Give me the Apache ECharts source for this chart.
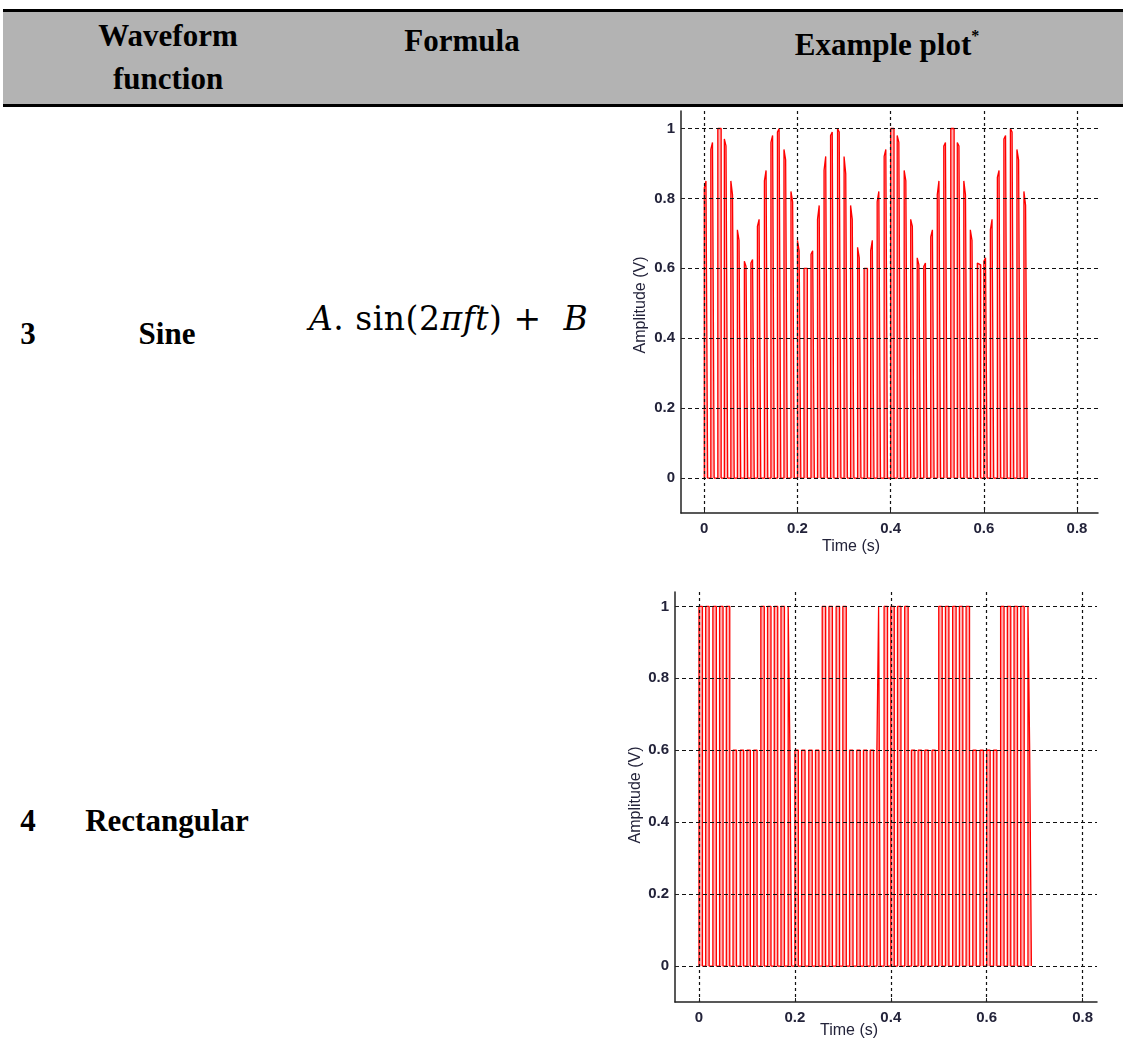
<!DOCTYPE html>
<html>
<head>
<meta charset="utf-8">
<script src="https://cdn.jsdelivr.net/npm/echarts@6/dist/echarts.min.js"></script>
<style>
  html, body { margin: 0; padding: 0; background: #fff; }
  #page { position: relative; width: 1123px; height: 1042px; overflow: hidden;
          font-family: "Liberation Serif", "Times New Roman", serif; }
  .rule { position: absolute; left: 3px; right: 0; background: #000; }
  .cell { position: absolute; font-weight: bold; font-size: 31px; color: #000;
          transform: translate(-50%, -50%); white-space: nowrap; text-align: center; line-height: 43px; }
  .formula { position: absolute; font-size: 33px; color: #000; white-space: nowrap; letter-spacing: 0.5px;
             font-family: "DejaVu Serif", serif; transform: translate(0, -50%); }
  #chart { position: absolute; left: 0; top: 0; width: 1123px; height: 1042px; }
</style>
</head>
<body>
<div id="page">
  <div style="position:absolute;left:3px;right:0;top:11px;height:94px;background:#b3b3b3"></div>
  <div class="rule" style="top:9px;height:3px"></div>
  <div class="rule" style="top:104px;height:3px"></div>

  <div class="cell" style="left:168px;top:57px">Waveform<br>function</div>
  <div class="cell" style="left:462px;top:40px">Formula</div>
  <div class="cell" style="left:887px;top:40px">Example plot<sup style="font-size:16px;vertical-align:14px">*</sup></div>

  <div class="cell" style="left:28px;top:333px">3</div>
  <div class="cell" style="left:167px;top:333px">Sine</div>
  <div class="formula" style="left:309px;top:318px"><i>A</i>. sin(2<i>πft</i>) +&nbsp; <i>B</i></div>

  <div class="cell" style="left:28px;top:820px">4</div>
  <div class="cell" style="left:167px;top:820px">Rectangular</div>

  <div id="chart"></div>
</div>

<script>
  // pulse start times (s), same pulse train in both plots
  const pulseStart = [0, 0.014, 0.029, 0.043, 0.057, 0.071, 0.086, 0.100, 0.114, 0.129,
    0.143, 0.157, 0.171, 0.186, 0.200, 0.214, 0.229, 0.243, 0.257, 0.271,
    0.286, 0.300, 0.314, 0.329, 0.343, 0.357, 0.371, 0.386, 0.400, 0.414,
    0.429, 0.443, 0.457, 0.471, 0.486, 0.500, 0.514, 0.529, 0.543, 0.557,
    0.571, 0.586, 0.600, 0.614, 0.629, 0.643, 0.657, 0.671, 0.686];

  // sine plot: pulse top, first half / second half of each pulse (V)
  const sineTopA = [0.83, 0.94, 1.00, 0.97, 0.85, 0.71, 0.62, 0.615, 0.72, 0.85,
    0.96, 0.99, 0.94, 0.82, 0.68, 0.60, 0.64, 0.74, 0.88, 0.98,
    1.00, 0.92, 0.78, 0.66, 0.60, 0.65, 0.79, 0.92, 1.00, 0.98,
    0.88, 0.74, 0.63, 0.605, 0.69, 0.81, 0.95, 1.00, 0.96, 0.85,
    0.71, 0.615, 0.62, 0.71, 0.86, 0.97, 1.00, 0.94, 0.82];
  const sineTopB = [0.85, 0.96, 1.00, 0.95, 0.81, 0.68, 0.605, 0.625, 0.74, 0.88,
    0.98, 1.00, 0.91, 0.79, 0.65, 0.60, 0.65, 0.78, 0.92, 0.99,
    0.99, 0.87, 0.74, 0.63, 0.60, 0.68, 0.82, 0.94, 1.00, 0.96,
    0.85, 0.72, 0.61, 0.615, 0.71, 0.85, 0.96, 1.00, 0.95, 0.81,
    0.68, 0.61, 0.63, 0.74, 0.88, 0.98, 0.99, 0.91, 0.78];

  // rectangular plot: pulse top, first half / second half (V)
  const rectTopA = [1, 1, 1, 1, 1, 0.6, 0.6, 0.6, 0.6, 1,
    1, 1, 1, 1, 0.6, 0.6, 0.6, 0.6, 1, 1,
    1, 1, 0.6, 0.6, 0.6, 0.6, 0.6, 1, 1, 1,
    1, 0.6, 0.6, 0.6, 0.6, 1, 1, 1, 1, 1,
    0.6, 0.6, 0.6, 0.6, 1, 1, 1, 1, 1];
  const rectTopB = [1, 1, 1, 1, 1, 0.6, 0.6, 0.6, 0.6, 1,
    1, 1, 1, 0.6, 0.6, 0.6, 0.6, 0.6, 1, 1,
    1, 1, 0.6, 0.6, 0.6, 0.6, 1, 1, 1, 1,
    1, 0.6, 0.6, 0.6, 0.6, 1, 1, 1, 1, 1,
    0.6, 0.6, 0.6, 0.6, 1, 1, 1, 1, 0.6];

  const timeTicks = [0, 0.2, 0.4, 0.6, 0.8];
  const ampTicks = [0, 0.2, 0.4, 0.6, 0.8, 1];

  const PULSE_W = 0.0072;

  function pulseTrain(starts, topA, topB) {
    let pts = [[starts[0], 0]];
    starts.forEach(function (s, i) {
      pts.push([s, topA[i]]);
      pts.push([s + PULSE_W / 2, topB[i]]);
      pts.push([s + PULSE_W, 0]);
    });
    return pts;
  }

  const tickFont = { fontSize: 15, fontWeight: 'bold', color: '#23233a', fontFamily: 'Liberation Sans' };
  const axisColor = '#222';

  function timeAxis(grid, max) {
    return {
      type: 'value', gridIndex: grid, min: -0.05, max: max, z: 3,
      axisLine: { onZero: false, lineStyle: { color: axisColor, width: 1.5 } },
      axisTick: { inside: true, length: 4, customValues: timeTicks, lineStyle: { color: axisColor } },
      axisLabel: Object.assign({ customValues: timeTicks, margin: 8 }, tickFont),
      splitLine: { show: true, lineStyle: { color: '#111', width: 1.2, type: [3, 3] } }
    };
  }

  function ampAxis(grid, max) {
    return {
      type: 'value', gridIndex: grid, min: -0.1, max: max, z: 3,
      axisLine: { show: true, onZero: false, lineStyle: { color: axisColor, width: 1.5 } },
      axisTick: { show: true, inside: true, length: 4, customValues: ampTicks, lineStyle: { color: axisColor } },
      axisLabel: Object.assign({ customValues: ampTicks, margin: 6 }, tickFont),
      splitLine: { show: true, lineStyle: { color: '#111', width: 1.2, type: [4, 3] } }
    };
  }

  function pulseSeries(idx, topA, topB) {
    return {
      type: 'line', xAxisIndex: idx, yAxisIndex: idx, step: 'end',
      data: pulseTrain(pulseStart, topA, topB),
      showSymbol: false, silent: true, z: 1,
      lineStyle: { color: '#ff0000', width: 1.3 },
      areaStyle: { color: 'rgba(255,40,40,0.5)' }
    };
  }

  function label(text, x, y, vertical) {
    return {
      type: 'text', x: x, y: y, rotation: vertical ? Math.PI / 2 : 0,
      style: { text: text, textAlign: 'center', textVerticalAlign: 'middle',
               font: '16px "Liberation Sans"', fill: '#23233a' }
    };
  }

  let chart = echarts.init(document.getElementById('chart'));
  chart.setOption({
    animation: false,
    grid: [
      { left: 681, top: 111, width: 417, height: 402 },
      { left: 675, top: 592, width: 422, height: 410 }
    ],
    xAxis: [timeAxis(0, 0.845), timeAxis(1, 0.83)],
    yAxis: [ampAxis(0, 1.05), ampAxis(1, 1.04)],
    series: [pulseSeries(0, sineTopA, sineTopB), pulseSeries(1, rectTopA, rectTopB)],
    graphic: [
      label('Time (s)', 851, 547),
      label('Amplitude (V)', 641, 305, true),
      label('Time (s)', 849, 1031),
      label('Amplitude (V)', 636, 795, true)
    ]
  });
</script>
</body>
</html>
